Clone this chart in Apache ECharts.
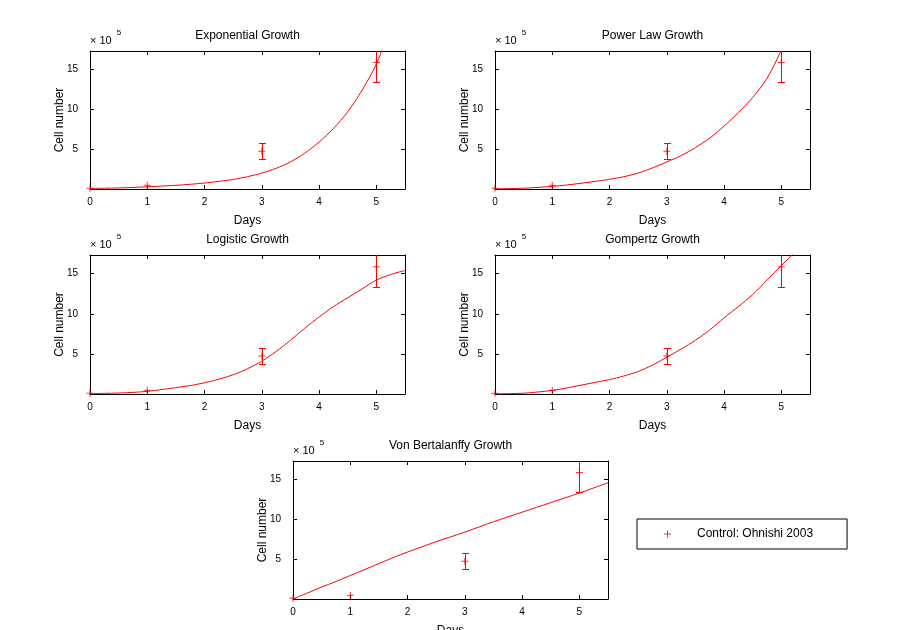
<!doctype html>
<html lang="en">
<head>
    <meta charset="UTF-8">
    <title>Cell growth models</title>
    <script src="https://cdn.jsdelivr.net/npm/echarts@6/dist/echarts.min.js"></script>
    <style>
        html, body { margin: 0; padding: 0; background: #fff; }
        #chart { width: 900px; height: 630px; }
    </style>
</head>
<body>
<div id="chart"></div>
<script>
    // measured cell counts (units of 10^5 cells)
    const days = [0, 1, 3, 5]
    const cellMean = [0.1, 0.48, 4.75, 15.88]
    const cellErr = [0, 0, 1.0, 2.5]

    // fitted curves, every 0.25 day
    const curveDays = [0, 0.25, 0.5, 0.75, 1, 1.25, 1.5, 1.75, 2, 2.25, 2.5, 2.75,
        3, 3.25, 3.5, 3.75, 4, 4.25, 4.5, 4.75, 5, 5.25, 5.5]
    const expCurve = [0.08, 0.1, 0.13, 0.2, 0.28, 0.36, 0.46, 0.59, 0.75, 0.95, 1.2, 1.55,
        2.0, 2.6, 3.4, 4.5, 5.9, 7.6, 9.7, 12.4, 15.7, 20.5, 27]
    const powerCurve = [0.02, 0.05, 0.1, 0.2, 0.33, 0.5, 0.72, 0.95, 1.22, 1.55, 2.0, 2.65,
        3.4, 4.2, 5.2, 6.4, 7.9, 9.6, 11.5, 13.9, 17.4, 21, 25]
    const logisticCurve = [0.05, 0.08, 0.12, 0.2, 0.33, 0.55, 0.8, 1.05, 1.4, 1.85, 2.4, 3.15,
        4.1, 5.3, 6.7, 8.2, 9.6, 10.9, 12.0, 13.1, 14.2, 14.9, 15.4]
    const gompertzCurve = [0.02, 0.05, 0.1, 0.25, 0.45, 0.75, 1.1, 1.45, 1.8, 2.25, 2.8, 3.6,
        4.6, 5.6, 6.7, 8.0, 9.5, 10.9, 12.4, 14.2, 16.0, 17.8, 19.6]
    const bertalanffyCurve = [0, 0.75, 1.5, 2.2, 2.95, 3.7, 4.45, 5.2, 5.9, 6.55, 7.2, 7.8,
        8.4, 9.05, 9.7, 10.3, 10.9, 11.5, 12.1, 12.7, 13.3, 13.95, 14.6]

    const titles = ['Exponential Growth', 'Power Law Growth', 'Logistic Growth',
        'Gompertz Growth', 'Von Bertalanffy Growth']
    const curves = [expCurve, powerCurve, logisticCurve, gompertzCurve, bertalanffyCurve]
    const legendName = 'Control: Ohnishi 2003'

    // subplot boxes (pixels)
    const boxes = [
        {left: 90, top: 51, width: 315, height: 138},
        {left: 495, top: 51, width: 315, height: 138},
        {left: 90, top: 255, width: 315, height: 139},
        {left: 495, top: 255, width: 315, height: 139},
        {left: 293, top: 461, width: 315, height: 138}
    ]

    const RED = '#ff0000'
    const FONT = 'Liberation Sans'
    const yMax = 17.33

    const chart = echarts.init(document.getElementById('chart'))

    // error bar: vertical line plus caps, clipped to the top of the box
    function renderErrorBar(params, api) {
        const x = api.value(0), lo = api.value(1), hi = api.value(2)
        if (hi === lo) return null
        const cs = params.coordSys
        const top = api.coord([x, hi])
        const bot = api.coord([x, lo])
        const px = Math.round(top[0]) + 0.5
        const yTop = Math.max(top[1], cs.y)
        const yBot = Math.round(bot[1]) + 0.5
        const half = 3.5
        const style = {stroke: RED, lineWidth: 1, fill: null}
        const children = [
            {type: 'line', shape: {x1: px, y1: yTop, x2: px, y2: yBot}, style},
            {type: 'line', shape: {x1: px - half, y1: yBot, x2: px + half, y2: yBot}, style}
        ]
        if (top[1] >= cs.y) {
            const yt = Math.round(top[1]) + 0.5
            children.push({type: 'line', shape: {x1: px - half, y1: yt, x2: px + half, y2: yt}, style})
        }
        return {type: 'group', children}
    }

    const plus = 'path://M3,0h1v3h3v1h-3v3h-1v-3h-3v-1h3z'

    const tickStyle = {inside: true, length: 4, lineStyle: {color: '#000', width: 1}}
    const lineStyle = {onZero: false, lineStyle: {color: '#000', width: 1}}

    const grid = [], xAxis = [], yAxis = [], series = [], title = []

    boxes.forEach((b, i) => {
        // keep the boxes where they are even if labels run off the canvas
        grid.push(Object.assign({containLabel: false, outerBoundsMode: 'none'}, b))
        title.push({
            text: titles[i],
            left: b.left + b.width / 2,
            top: b.top - 21,
            textAlign: 'center',
            padding: 0,
            textStyle: {fontFamily: FONT, fontSize: 12, fontWeight: 'normal', color: '#000'}
        })
        // bottom and mirrored top x axes
        xAxis.push({
            gridIndex: i, type: 'value', min: 0, max: 5.5, interval: 1, position: 'bottom',
            axisLine: lineStyle, axisTick: tickStyle, splitLine: {show: false},
            axisLabel: {fontFamily: FONT, fontSize: 10, color: '#000', margin: 8, showMaxLabel: false},
            name: 'Days', nameLocation: 'middle', nameGap: 26, nameMoveOverlap: false,
            nameTextStyle: {fontFamily: FONT, fontSize: 12, color: '#000'}
        })
        xAxis.push({
            gridIndex: i, type: 'value', min: 0, max: 5.5, interval: 1, position: 'top',
            axisLine: lineStyle, axisTick: tickStyle, splitLine: {show: false},
            axisLabel: {show: false}
        })
        // left, mirrored right, and a holder for the x10^5 exponent
        yAxis.push({
            gridIndex: i, type: 'value', min: 0, max: yMax, interval: 5, position: 'left',
            axisLine: lineStyle, axisTick: tickStyle, splitLine: {show: false},
            axisLabel: {
                fontFamily: FONT, fontSize: 10, color: '#000', margin: 12,
                showMaxLabel: false, formatter: v => v === 0 ? '' : String(v)
            },
            name: 'Cell number', nameLocation: 'middle', nameGap: 24, nameMoveOverlap: false,
            nameTextStyle: {fontFamily: FONT, fontSize: 12, color: '#000'}
        })
        yAxis.push({
            gridIndex: i, type: 'value', min: 0, max: yMax, interval: 5, position: 'right',
            axisLine: lineStyle, axisTick: tickStyle, splitLine: {show: false},
            axisLabel: {show: false}
        })
        yAxis.push({
            gridIndex: i, type: 'value', min: 0, max: yMax, position: 'left',
            axisLine: {show: false, onZero: false}, axisTick: {show: false},
            axisLabel: {show: false}, splitLine: {show: false},
            name: '{a|\u00d7 10}{b|5}', nameLocation: 'end', nameGap: 5,
            nameTextStyle: {
                align: 'left', verticalAlign: 'bottom', color: '#000',
                rich: {
                    a: {fontFamily: FONT, fontSize: 11, color: '#000', lineHeight: 17, verticalAlign: 'bottom'},
                    b: {fontFamily: FONT, fontSize: 8, color: '#000', lineHeight: 17, verticalAlign: 'top', padding: [0, 0, 0, 5]}
                }
            }
        })

        series.push({
            type: 'line', xAxisIndex: 2 * i, yAxisIndex: 3 * i,
            data: curveDays.map((d, k) => [d, curves[i][k]]),
            showSymbol: false, smooth: 0.3, clip: true,
            lineStyle: {color: RED, width: 1}, itemStyle: {color: RED},
            silent: true
        })
        series.push({
            type: 'custom', name: 'errorbar', xAxisIndex: 2 * i, yAxisIndex: 3 * i,
            renderItem: renderErrorBar,
            data: days.map((d, k) => [d, cellMean[k] - cellErr[k], cellMean[k] + cellErr[k]]),
            encode: {x: 0, y: [1, 2]}, clip: true, silent: true
        })
        series.push({
            type: 'scatter', name: legendName, xAxisIndex: 2 * i, yAxisIndex: 3 * i,
            data: days.map((d, k) => [d, cellMean[k]]),
            symbol: plus, symbolSize: 7, clip: true,
            itemStyle: {color: RED}, silent: true
        })
    })

    const option = {
        backgroundColor: '#fff',
        animation: false,
        title,
        grid,
        xAxis,
        yAxis,
        legend: {
            data: [{name: legendName, icon: plus}],
            left: 637, top: 519,
            padding: [9, 34, 9, 27],
            borderColor: '#000', borderWidth: 1,
            itemWidth: 7, itemHeight: 7,
            selectedMode: false,
            textStyle: {fontFamily: FONT, fontSize: 12, color: '#000', padding: [0, 0, 0, 21]}
        },
        series
    }
    chart.setOption(option)
</script>
</body>
</html>
